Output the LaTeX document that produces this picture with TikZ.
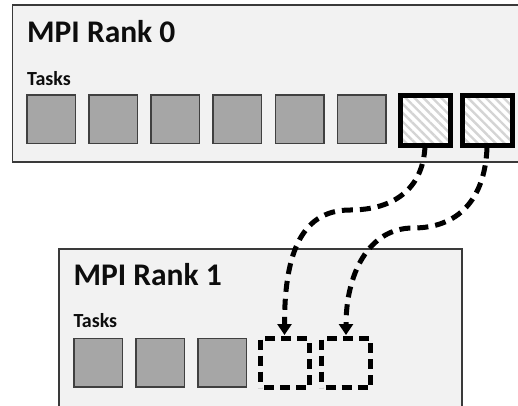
\documentclass[tikz,border=0pt]{standalone}
\usepackage{fontspec}
\setmainfont{Carlito}
\usetikzlibrary{arrows.meta,patterns.meta}
\definecolor{panelbg}{HTML}{F2F2F2}
\definecolor{panelline}{HTML}{3A3A3A}
\definecolor{taskgray}{HTML}{A6A6A6}
\definecolor{taskline}{HTML}{404040}
\definecolor{hatchgray}{HTML}{D4D4D4}
\definecolor{inkblack}{HTML}{0D0D0D}
\tikzset{
  x=1pt, y=1pt,
  panel/.style={fill=panelbg, draw=panelline, line width=1.3pt},
  ranktitle/.style={anchor=base west, inner sep=0pt, text=inkblack,
    font=\fontsize{31.5}{36}\selectfont\bfseries},
  tasklabel/.style={anchor=base west, inner sep=0pt, text=inkblack,
    font=\fontsize{20}{24}\selectfont\bfseries},
  task/.style={draw=taskline, fill=taskgray, line width=1.5pt,
    minimum size=48.5pt, inner sep=0pt},
  movedtask/.style={draw=black, line width=5pt, minimum size=50pt, inner sep=0pt,
    preaction={fill=white},
    pattern={Lines[angle=-45, distance=6.3pt, line width=2.4pt]},
    pattern color=hatchgray},
  slot/.style={draw=black, line width=5pt, minimum size=49pt, inner sep=0pt,
    dash pattern=on 10pt off 6pt, dash phase=-4pt},
  migrate/.style={line width=5pt, dash pattern=on 11pt off 7pt,
    -{Triangle[length=11pt, width=14pt]}}
}
\begin{document}
\begin{tikzpicture}
\useasboundingbox (0,0) rectangle (518,-405);
\clip (0,0) rectangle (518,-405);
\fill[white] (0,0) rectangle (518,-405);

% rank 0 panel
\draw[panel] (12.7,-5) rectangle (540,-162);
\node[ranktitle] (t0) at (27,-42.3) {MPI Rank 0};
\node[tasklabel] (k0) at (27,-85) {Tasks};
\foreach \i in {0,...,5} {
  \node[task] (a\i) at ({51+62.14*\i},-119) {};
}
\node[movedtask] (h6) at (425,-120) {};
\node[movedtask] (h7) at (487,-120) {};

% rank 1 panel
\draw[panel] (59,-249) rectangle (462,-430);
\node[ranktitle] (t1) at (73.3,-285) {MPI Rank 1};
\node[tasklabel] (k1) at (73.3,-327.7) {Tasks};
\foreach \i in {0,...,2} {
  \node[task] (b\i) at ({98+62*\i},-362.5) {};
}
\node[slot] (d0) at (284.5,-363) {};
\node[slot] (d1) at (346,-363) {};

% migration paths
\coordinate (m0) at (350,-210);
\coordinate (m1) at (413,-228);
\draw[migrate] (h6.south) .. controls +(-2,-44) and +(42,0) .. (m0)
  .. controls +(-52,0) and +(0,75) .. ([yshift=1pt]d0.north);
\draw[migrate] (h7.south) .. controls +(-2,-52) and +(45,0) .. (m1)
  .. controls +(-45,0) and +(0,60) .. ([yshift=1pt]d1.north);
\end{tikzpicture}
\end{document}
